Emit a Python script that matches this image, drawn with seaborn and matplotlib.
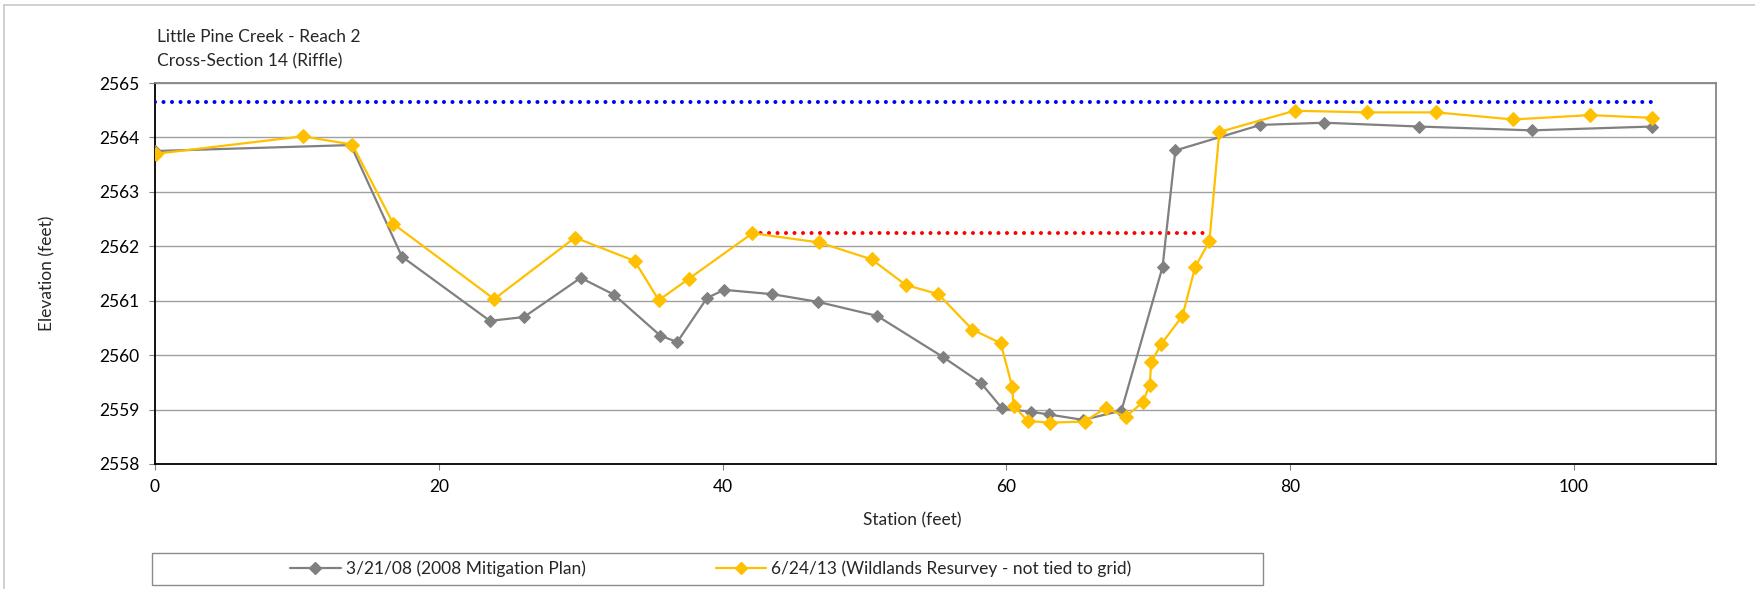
import matplotlib
matplotlib.use("Agg")
import matplotlib.pyplot as plt
from matplotlib.patches import Rectangle
from matplotlib.lines import Line2D
import seaborn as sns
import pandas as pd

# ---------------- data ----------------
station_2008 = [0, 13.8, 17.4, 23.6, 26.0, 30.0, 32.35, 35.6, 36.8, 38.9, 40.1, 43.5,
                46.7, 50.9, 55.5, 58.2, 59.7, 61.7, 63.0, 65.4, 68.1, 71.0, 71.9, 77.9,
                82.4, 89.1, 97.0, 105.5]
elev_2008 = [2563.75, 2563.86, 2561.81, 2560.63, 2560.70, 2561.42, 2561.11, 2560.36,
             2560.24, 2561.05, 2561.20, 2561.12, 2560.98, 2560.72, 2559.97, 2559.49,
             2559.02, 2558.96, 2558.91, 2558.81, 2558.98, 2561.62, 2563.76, 2564.23,
             2564.27, 2564.20, 2564.13, 2564.20]

station_2013 = [0.1, 10.4, 13.9, 16.8, 23.9, 29.6, 33.8, 35.5, 37.6, 42.1, 46.8, 50.5,
                52.9, 55.2, 57.6, 59.6, 60.4, 60.5, 61.5, 63.1, 65.5, 67.0, 68.4, 69.6,
                70.1, 70.2, 70.9, 72.4, 73.3, 74.3, 75.0, 80.3, 85.4, 90.3, 95.7, 101.1,
                105.5]
elev_2013 = [2563.70, 2564.02, 2563.87, 2562.41, 2561.03, 2562.16, 2561.73, 2561.01,
             2561.40, 2562.24, 2562.07, 2561.76, 2561.29, 2561.12, 2560.47, 2560.22,
             2559.42, 2559.07, 2558.79, 2558.76, 2558.78, 2559.03, 2558.87, 2559.13,
             2559.46, 2559.87, 2560.20, 2560.72, 2561.62, 2562.09, 2564.10, 2564.49,
             2564.46, 2564.46, 2564.33, 2564.41, 2564.36]

blue_x = [0, 105.5]
blue_y = [2564.66, 2564.66]
red_x = [42.1, 74.2]
red_y = [2562.24, 2562.24]

label_2008 = "3/21/08 (2008 Mitigation Plan)"
label_2013 = "6/24/13 (Wildlands Resurvey - not tied to grid)"
title_1 = "Little Pine Creek - Reach 2"
title_2 = "Cross-Section 14 (Riffle)"
x_ticks = [0, 20, 40, 60, 80, 100]
y_ticks = [2558, 2559, 2560, 2561, 2562, 2563, 2564, 2565]

# ---------------- style ----------------
sns.set_theme(style="white")
plt.rcParams["font.family"] = ["Lato", "DejaVu Sans"]

FS = 12.5
W, H = 1756, 589
fig = plt.figure(figsize=(W / 100, H / 100), dpi=100)
L, R, T, B = 155, 1716, 83, 464
ax = fig.add_axes([L / W, 1 - B / H, (R - L) / W, (B - T) / H])

GRAY = "#808080"
GOLD = "#FFC000"

dots = (0, (0.01, 2.1))
sns.lineplot(x=blue_x, y=blue_y, ax=ax, color="#0000FF", lw=2.9,
             linestyle=dots, dash_capstyle="round", zorder=3, legend=False)
sns.lineplot(x=red_x, y=red_y, ax=ax, color="#FF0000", lw=2.9,
             linestyle=dots, dash_capstyle="round", zorder=3, legend=False)

df08 = pd.DataFrame({"Station": station_2008, "Elevation": elev_2008})
df13 = pd.DataFrame({"Station": station_2013, "Elevation": elev_2013})
sns.lineplot(data=df08, x="Station", y="Elevation", ax=ax, sort=False, color=GRAY,
             lw=1.6, marker="D", markersize=6, markeredgecolor=GRAY, zorder=4)
sns.lineplot(data=df13, x="Station", y="Elevation", ax=ax, sort=False, color=GOLD,
             lw=1.6, marker="D", markersize=7, markeredgecolor=GOLD, zorder=5)

ax.set_xlim(0, 110)
ax.set_ylim(2558, 2565)
ax.set_xticks(x_ticks)
ax.set_yticks(y_ticks)
ax.yaxis.grid(True, color="#A0A0A0", lw=1.0)
ax.xaxis.grid(False)
for s in ["left", "bottom"]:
    ax.spines[s].set_color("black")
    ax.spines[s].set_linewidth(1.3)
for s in ["top", "right"]:
    ax.spines[s].set_color("#868686")
    ax.spines[s].set_linewidth(1.3)
ax.tick_params(axis="both", which="major", direction="out", length=4, width=0.8,
               color="#808080", labelsize=FS, labelcolor="black", pad=7,
               bottom=True, left=True)

ax.set_xlabel("Station (feet)", fontsize=FS, va="center")
ax.xaxis.set_label_coords((912 - L) / (R - L), (B - 520) / (B - T))
ax.set_ylabel("Elevation (feet)", fontsize=FS, va="center")
ax.yaxis.set_label_coords((47 - L) / (R - L), 0.5)

fig.text(157 / W, 1 - 37 / H, title_1, fontsize=FS, va="center", ha="left")
fig.text(157 / W, 1 - 61 / H, title_2, fontsize=FS, va="center", ha="left")

# legend
handles = [
    Line2D([], [], color=GRAY, lw=1.6, marker="D", markersize=6),
    Line2D([], [], color=GOLD, lw=1.6, marker="D", markersize=6),
]
fig.legend(handles, [label_2008, label_2013], loc="center",
           bbox_to_anchor=(711 / W, 1 - 569 / H), ncol=2, frameon=False,
           fontsize=FS, handlelength=2.9, handletextpad=0.3, columnspacing=7.5)
fig.add_artist(Rectangle((152 / W, 1 - 585 / H), (1263 - 152) / W, (585 - 553) / H,
                         transform=fig.transFigure, fill=False, edgecolor="#8a8a8a",
                         lw=1.0))
# chart-area border (left and top visible)
fig.add_artist(Line2D([4 / W, 4 / W], [0, 1 - 5 / H], transform=fig.transFigure,
                      color="#C8C8C8", lw=1.2))
fig.add_artist(Line2D([4 / W, 1], [1 - 5 / H, 1 - 5 / H], transform=fig.transFigure,
                      color="#C8C8C8", lw=1.2))

fig.savefig("out.png", dpi=100)
